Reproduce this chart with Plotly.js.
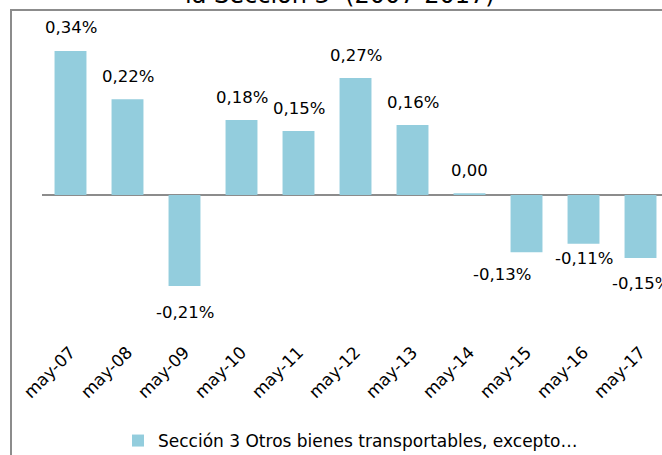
<!DOCTYPE html>
<html>
<head>
<meta charset="utf-8">
<script src="https://cdn.plot.ly/plotly-3.0.1.min.js"></script>
<style>
  html, body { margin: 0; padding: 0; overflow: hidden; background: #ffffff; }
  #chart { width: 662px; height: 455px; }
</style>
</head>
<body>
<div id="chart"></div>
<script>
// ---- data ----
const categories = ["may-07", "may-08", "may-09", "may-10", "may-11", "may-12", "may-13", "may-14", "may-15", "may-16", "may-17"];
const values = [0.340, 0.226, -0.215, 0.177, 0.151, 0.276, 0.165, 0.004, -0.135, -0.115, -0.149];
const valueLabels = ["0,34%", "0,22%", "-0,21%", "0,18%", "0,15%", "0,27%", "0,16%", "0,00", "-0,13%", "-0,11%", "-0,15%"];
const seriesName = "Sección 3 Otros bienes transportables, excepto…";
const titleText = "la Sección 3  (2007-2017)";

// ---- style ----
const FONT = "DejaVu Sans, sans-serif";
const BAR_COLOR = "#93CDDD";
const GRAY = "#8C8C8C";
// manual label nudges (pixels), as in the original chart
const labelNudge = { "may-09": { dx: 0, dy: -3 }, "may-15": { dx: -25, dy: 1 }, "may-16": { dx: 0, dy: 8 }, "may-17": { dx: 0, dy: -2 } };

const trace = {
  type: "bar",
  x: categories,
  y: values,
  name: seriesName,
  marker: { color: BAR_COLOR },
  width: 0.56,
  showlegend: true,
  hoverinfo: "x+y"
};

const labelAnnotations = categories.map((c, i) => {
  const n = labelNudge[c] || { dx: 0, dy: 0 };
  return {
    x: c,
    y: values[i],
    xref: "x",
    yref: "y",
    text: valueLabels[i],
    showarrow: false,
    yanchor: "middle",
    xanchor: "center",
    xshift: n.dx,
    yshift: (values[i] >= 0 ? 23 : -23) + n.dy,
    font: { family: FONT, size: 16.5, color: "#000000" }
  };
});

const titleAnnotation = {
  x: 0.48,
  y: 1,
  xref: "paper",
  yref: "paper",
  text: titleText,
  showarrow: false,
  xanchor: "center",
  yanchor: "bottom",
  yshift: -1,
  font: { family: FONT, size: 24, color: "#000000" }
};

const layout = {
  width: 662,
  height: 455,
  margin: { l: 42, r: 0, t: 10, b: 117, autoexpand: false },
  paper_bgcolor: "#ffffff",
  plot_bgcolor: "#ffffff",
  font: { family: FONT, color: "#000000" },
  bargap: 0.44,
  xaxis: {
    type: "category",
    range: [-0.5, 10.377],
    tickangle: -45,
    ticks: "",
    showline: false,
    showgrid: false,
    zeroline: false,
    automargin: false,
    tickfont: { family: FONT, size: 17, color: "#000000" },
    fixedrange: true
  },
  yaxis: {
    range: [-0.3377, 0.4368],
    showgrid: false,
    showticklabels: false,
    ticks: "",
    zeroline: true,
    zerolinecolor: GRAY,
    zerolinewidth: 2,
    showline: false,
    automargin: false,
    fixedrange: true
  },
  showlegend: true,
  legend: {
    orientation: "h",
    x: 0.1226,
    xanchor: "left",
    y: -0.314,
    yanchor: "middle",
    font: { family: FONT, size: 17, color: "#000000" },
    bgcolor: "rgba(0,0,0,0)"
  },
  shapes: [{
    type: "rect",
    xref: "paper",
    yref: "paper",
    x0: -0.05,
    x1: 1.2,
    y0: -1,
    y1: 1,
    line: { color: GRAY, width: 2 },
    fillcolor: "rgba(0,0,0,0)",
    layer: "above"
  }],
  annotations: [titleAnnotation].concat(labelAnnotations)
};

Plotly.newPlot("chart", [trace], layout, { displayModeBar: false, staticPlot: true });
</script>
</body>
</html>
